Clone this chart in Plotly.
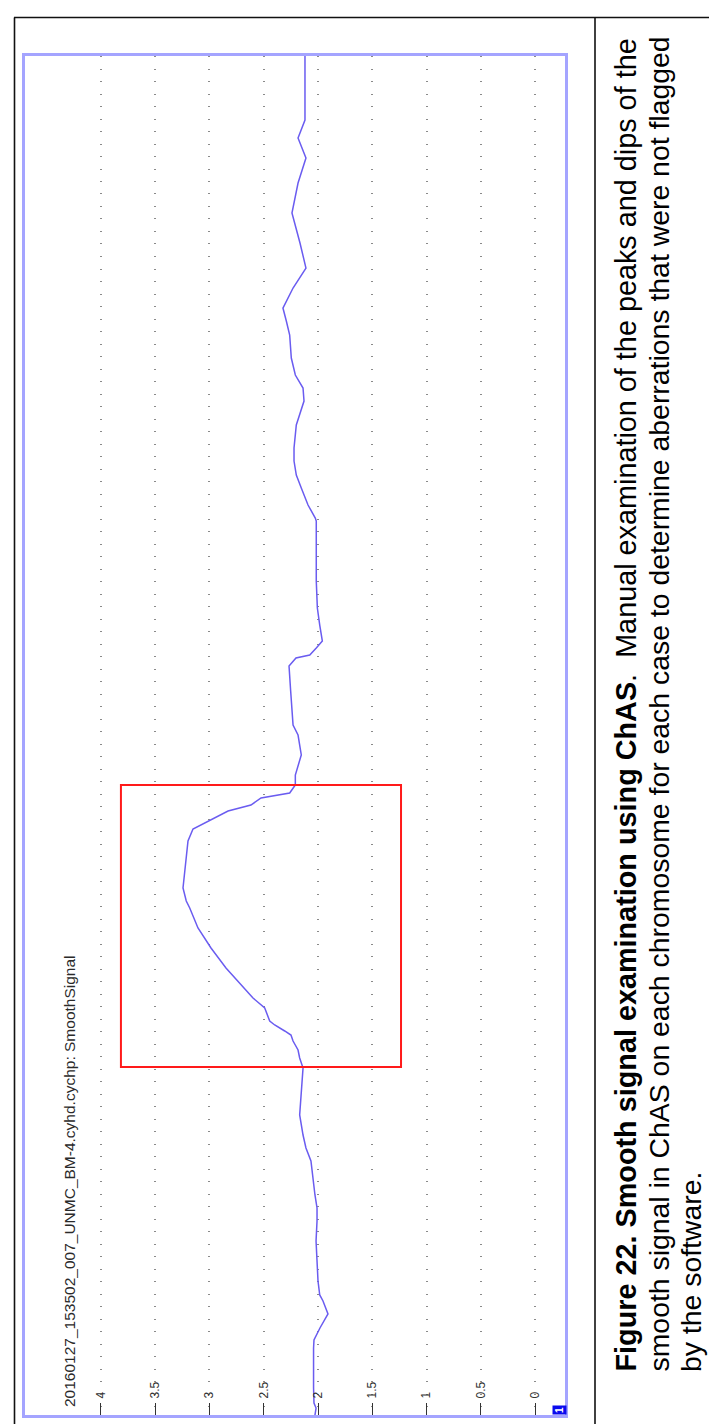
import plotly.graph_objects as go

# ---- data (position along chromosome 1 in Mb, smooth signal value) ----
positions = [0.0, 1.28, 2.20, 4.95, 12.28, 13.74, 15.94, 18.51, 20.89, 21.99, 24.55, 26.93,
             31.88, 35.54, 37.93, 40.31, 43.97, 46.54, 48.92, 51.30, 54.97, 57.53, 60.83,
             63.58, 65.41, 66.88, 68.52, 69.62, 70.36, 71.46, 72.19, 74.57, 76.40, 79.15,
             81.90, 85.56, 89.23, 92.89, 94.17, 96.56, 100.22, 105.17, 107.37, 108.47,
             109.75, 110.66, 111.76, 113.05, 113.96, 115.43, 117.26, 119.09, 120.93,
             124.59, 126.42, 132.65, 137.23, 138.70, 139.25, 140.53, 141.81, 144.74,
             147.86, 152.81, 163.80, 164.35, 166.73, 169.84, 172.23, 174.79, 177.17,
             181.39, 183.22, 185.78, 188.17, 190.55, 193.66, 197.88, 200.44, 202.82,
             206.49, 210.15, 214.73, 220.23, 225.73, 230.31, 233.97, 237.27, 249.0]
signal = [2.028, 2.018, 2.037, 2.041, 2.041, 2.037, 1.982, 1.908, 1.954, 1.984, 2.000, 2.005,
          2.018, 2.009, 2.009, 2.028, 2.046, 2.065, 2.111, 2.138, 2.169, 2.159, 2.147,
          2.138, 2.169, 2.184, 2.230, 2.249, 2.307, 2.399, 2.445, 2.491, 2.599, 2.719,
          2.848, 2.986, 3.106, 3.182, 3.214, 3.244, 3.223, 3.198, 3.152, 3.044,
          2.922, 2.829, 2.618, 2.525, 2.261, 2.209, 2.209, 2.184, 2.154,
          2.184, 2.230, 2.252, 2.267, 2.203, 2.076, 2.016, 1.960, 1.984,
          2.006, 2.016, 2.016, 2.025, 2.092, 2.154, 2.200, 2.221, 2.221,
          2.200, 2.169, 2.129, 2.138, 2.209, 2.246, 2.261, 2.292, 2.323,
          2.230, 2.111, 2.166, 2.240, 2.184, 2.111, 2.184, 2.120, 2.120]
tick_values = [0, 0.5, 1, 1.5, 2, 2.5, 3, 3.5, 4]
tick_labels = ["0", "0.5", "1", "1.5", "2", "2.5", "3", "3.5", "4"]
chrom_length = 249.0
title_text = "20160127_153502_007_UNMC_BM-4.cyhd.cychp: SmoothSignal"
highlight_signal = (3.816, 1.235)
highlight_pos = (63.76, 115.43)

# ---- page geometry (pixels) ----
W, H = 717, 1424
L, R, T, B = 17, 557, 48, 1407


def px(xp):
    return (xp - L) / (R - L)


def py(yp):
    return (B - yp) / (B - T)


fig = go.Figure()
fig.add_trace(go.Scatter(x=signal, y=positions, mode="lines",
                         line=dict(color="#6a5cf0", width=1.5),
                         showlegend=False, hoverinfo="skip"))

fig.update_layout(
    width=W, height=H,
    margin=dict(l=L, r=W - R, t=T, b=H - B, pad=0),
    paper_bgcolor="white", plot_bgcolor="white",
    font=dict(family="Liberation Sans, Arial, sans-serif", color="#222"),
    xaxis=dict(range=[4.70, -0.276], tickvals=tick_values, ticktext=tick_labels,
               showgrid=True, gridcolor="#8a8a8a", gridwidth=1.6, griddash="1px,11.5px",
               zeroline=False, ticks="inside", ticklen=12, tickwidth=1.4,
               tickcolor="#333", ticklabelposition="inside", tickangle=-90,
               tickfont=dict(size=12, color="#333"),
               showline=True, mirror=True, linecolor="#a4a4ff", linewidth=2.5),
    yaxis=dict(range=[0, chrom_length], showgrid=False, zeroline=False,
               showticklabels=False, ticks="",
               showline=True, mirror=True, linecolor="#a4a4ff", linewidth=2.5),
)

# highlight box
fig.add_shape(type="rect", xref="x", yref="y",
              x0=highlight_signal[0], x1=highlight_signal[1],
              y0=highlight_pos[0], y1=highlight_pos[1],
              line=dict(color="#ff1a1a", width=2))

# page frame lines
frame = dict(color="#111", width=1.6)
fig.add_shape(type="line", xref="paper", yref="paper", x0=px(6.5), x1=px(6.5),
              y0=py(9.5), y1=py(H + 2), line=frame)
fig.add_shape(type="line", xref="paper", yref="paper", x0=px(6), x1=px(W + 2),
              y0=py(9.5), y1=py(9.5), line=frame)
fig.add_shape(type="line", xref="paper", yref="paper", x0=px(587), x1=px(587),
              y0=py(9.5), y1=py(H + 2), line=frame)

# chart title (rotated)
fig.add_annotation(xref="paper", yref="paper", x=px(61), y=py(1401),
                   xanchor="center", yanchor="bottom", text=title_text,
                   textangle=-90, showarrow=False,
                   font=dict(size=15.5, color="#2a2a2a"))

# chromosome badge
fig.add_annotation(xref="paper", yref="paper", x=px(551.5), y=py(1402.5),
                   xanchor="center", yanchor="middle", text="<b>1</b>",
                   textangle=-90, showarrow=False, bgcolor="#0a0aee",
                   borderpad=1, font=dict(size=10, color="white"))

# caption
cap_lines = [
    (617, 28.8, "<b>Figure 22. Smooth signal examination using ChAS</b>.\u00a0 Manual examination of the peaks and dips of the"),
    (650, 28.4, "smooth signal in ChAS on each chromosome for each case to determine aberrations that were not flagged"),
    (683, 28.4, "by the software."),
]
for xc, fs, txt in cap_lines:
    fig.add_annotation(xref="paper", yref="paper", x=px(xc), y=py(1366),
                       xanchor="center", yanchor="bottom", text=txt,
                       textangle=-90, showarrow=False,
                       font=dict(family="Liberation Sans, Arial, sans-serif",
                                 size=fs, color="black"))

fig.write_html("out.html")
